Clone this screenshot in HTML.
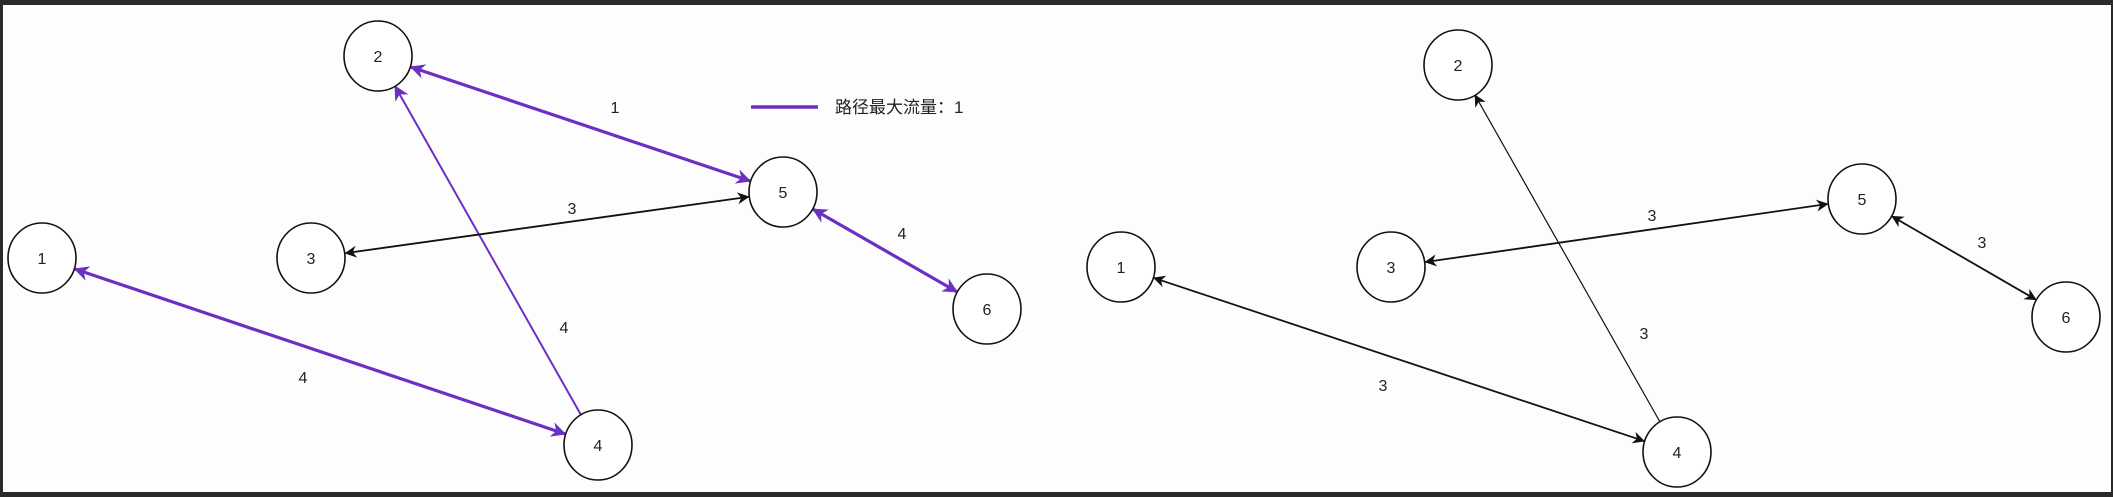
<!DOCTYPE html>
<html><head><meta charset="utf-8">
<style>
html,body{margin:0;padding:0;background:#2a2a2a;}
#wrap{position:relative;width:2113px;height:497px;overflow:hidden;background:#2a2a2a;}
svg{position:absolute;left:0;top:0;}
</style></head>
<body>
<div id="wrap">
<svg id="s" width="2113" height="497">
<defs>
<marker id="ap" viewBox="0 0 10 10" refX="9" refY="5" markerWidth="17" markerHeight="15" orient="auto-start-reverse" markerUnits="userSpaceOnUse">
<path d="M0,0 L10,5 L0,10 L3,5 z" fill="#6b2fc4"/>
</marker>
<marker id="ab" viewBox="0 0 10 10" refX="9" refY="5" markerWidth="13" markerHeight="12" orient="auto-start-reverse" markerUnits="userSpaceOnUse">
<path d="M0,0 L10,5 L0,10 L3,5 z" fill="#111"/>
</marker>
</defs>
<rect x="3" y="5" width="2108" height="487" fill="#fdfdfd"/>
<g id="g"></g>
<line x1="751" y1="107" x2="818" y2="107" stroke="#6b2fc4" stroke-width="3.5"/>
<text x="835" y="113" font-family="'Liberation Sans','Noto Sans CJK SC',sans-serif" font-size="17" fill="#222">路径最大流量：1</text>
</svg>
</div>
<script>
const nodeIds=[1,2,3,4,5,6];
const leftNodeX=[42,378,311,598,783,987];
const leftNodeY=[258,56,258,445,192,309];
const rightNodeX=[1121,1458,1391,1677,1862,2066];
const rightNodeY=[267,65,267,452,199,317];
const edgeFrom=[2,5,1,4,3];
const edgeTo=[5,6,4,2,5];
const leftCap=[1,4,4,4,3];
const rightCap=[null,3,3,3,3];
const leftPath=[true,true,true,true,false];
const leftBoth=[true,true,true,false,true];
const leftLabelX=[615,902,303,564,572];
const leftLabelY=[107,233,377,327,208];
const rightLabelX=[null,1982,1383,1644,1652];
const rightLabelY=[null,242,385,333,215];
const R=34;
const NS='http://www.w3.org/2000/svg';
const g=document.getElementById('g');
function mk(t,a){const e=document.createElementNS(NS,t);for(const k in a)e.setAttribute(k,a[k]);return e;}
function drawPanel(side,nx,ny,caps,lx,ly){
  edgeFrom.forEach((f,i)=>{
    if(caps[i]===null||caps[i]===undefined)return;
    const a=nodeIds.indexOf(f),b=nodeIds.indexOf(edgeTo[i]);
    const x1=nx[a],y1=ny[a],x2=nx[b],y2=ny[b];
    const d=Math.hypot(x2-x1,y2-y1),ux=(x2-x1)/d,uy=(y2-y1)/d;
    const purple=side==='left'&&leftPath[i];
    const thick=purple&&leftBoth[i];
    const both=side==='left'?leftBoth[i]:(i!==3);
    const ln=mk('line',{x1:x1+ux*(R+1),y1:y1+uy*(R+1),x2:x2-ux*(R+1),y2:y2-uy*(R+1),
      stroke:purple?'#6b2fc4':'#111','stroke-width':thick?3.2:(purple?2:(both?1.8:1.2)),
      'marker-end':purple?'url(#ap)':'url(#ab)'});
    if(both)ln.setAttribute('marker-start',purple?'url(#ap)':'url(#ab)');
    
    
    g.appendChild(ln);
    const t=mk('text',{x:lx[i],y:ly[i]+6,'text-anchor':'middle','font-family':'Liberation Sans,sans-serif','font-size':16,fill:'#222'});
    t.textContent=caps[i];
    
    
    g.appendChild(t);
  });
  nodeIds.forEach((id,i)=>{
    const c=mk('ellipse',{cx:nx[i],cy:ny[i],rx:R,ry:R+1,fill:'#fff',stroke:'#111','stroke-width':1.6});
    
    
    g.appendChild(c);
    const t=mk('text',{x:nx[i],y:ny[i]+6,'text-anchor':'middle','font-family':'Liberation Sans,sans-serif','font-size':16,fill:'#222'});
    t.textContent=id;
    
    
    g.appendChild(t);
  });
}
drawPanel('left',leftNodeX,leftNodeY,leftCap,leftLabelX,leftLabelY);
drawPanel('right',rightNodeX,rightNodeY,rightCap,rightLabelX,rightLabelY);
</script>
</body></html>
